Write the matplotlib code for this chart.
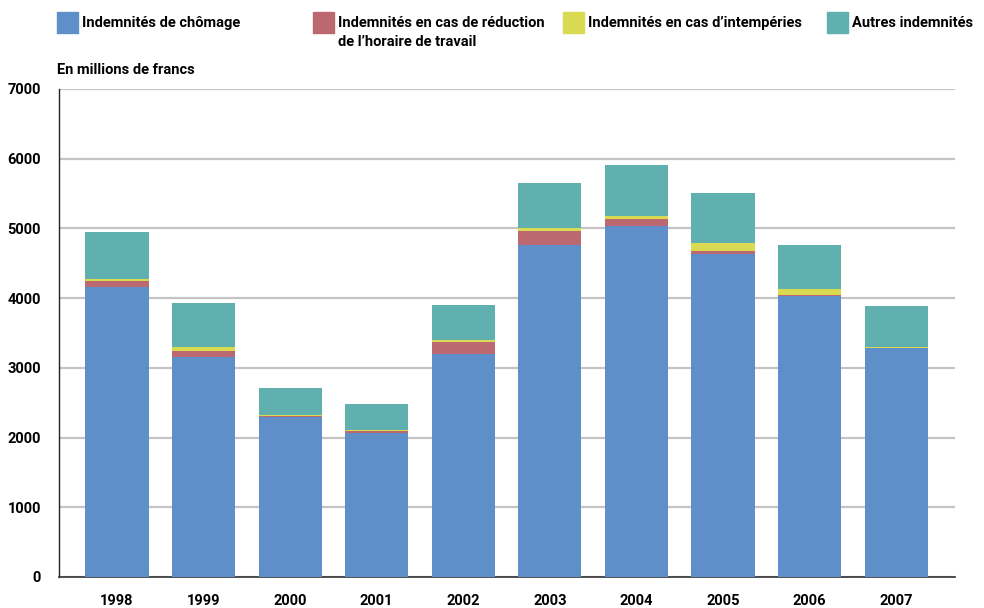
import matplotlib
matplotlib.use('Agg')
import matplotlib.pyplot as plt
from matplotlib.patches import Rectangle

# Données (en millions de francs)
annees = ['1998', '1999', '2000', '2001', '2002', '2003', '2004', '2005', '2006', '2007']
chomage = [4160, 3156, 2290, 2066, 3204, 4763, 5040, 4639, 4036, 3285]
reduction = [90, 86, 15, 29, 168, 201, 96, 38, 14, 0]
intemperies = [25, 58, 20, 14, 28, 43, 43, 115, 82, 15]
autres = [675, 631, 388, 373, 502, 646, 732, 717, 631, 588]

series = [
    ('Indemnités de chômage', chomage, '#5e8fc9'),
    ('Indemnités en cas de réduction\nde l\u2019horaire de travail', reduction, '#bc6870'),
    ('Indemnités en cas d\u2019intempéries', intemperies, '#d8db52'),
    ('Autres indemnités', autres, '#60b0b0'),
]

plt.rcParams['font.family'] = ['Roboto', 'DejaVu Sans']
police = dict(fontweight='bold', fontsize=10.5)

fig = plt.figure(figsize=(9.84, 6.08), dpi=100)
ax = fig.add_axes([59 / 984, 31 / 608, 896 / 984, 488 / 608])

x = list(range(len(annees)))
bas = [0] * len(annees)
for nom, valeurs, couleur in series:
    ax.bar(x, valeurs, bottom=bas, width=0.73, color=couleur, zorder=3)
    bas = [b + v for b, v in zip(bas, valeurs)]

ax.set_xlim(-0.67, 9.68)
ax.set_ylim(0, 7000)
ax.set_yticks(range(0, 7001, 1000))
ax.set_xticks(x)
ax.set_xticklabels(annees, **police)
ax.set_yticklabels([str(v) for v in range(0, 7001, 1000)], **police)
ax.tick_params(axis='both', length=0)
ax.tick_params(axis='y', pad=13)
ax.tick_params(axis='x', pad=12)
ax.grid(axis='y', color='#c4c4c4', linewidth=1.6, zorder=0)
for s in ['top', 'right']:
    ax.spines[s].set_visible(False)
ax.spines['left'].set_color('#222222')
ax.spines['left'].set_linewidth(1.0)
ax.spines['bottom'].set_color('#333333')
ax.spines['bottom'].set_linewidth(1.2)

# Légende en haut
positions = [57, 313, 563, 827]
for (nom, valeurs, couleur), px in zip(series, positions):
    fig.patches.append(Rectangle((px / 984, 1 - 33 / 608), 21 / 984, 21 / 608,
                                 transform=fig.transFigure, color=couleur))
    fig.text((px + 25) / 984, 1 - 16 / 608, nom, ha='left', va='top',
             linespacing=1.45, **police)

fig.text(57 / 984, 1 - 63 / 608, 'En millions de francs', ha='left', va='top', **police)

plt.savefig('out.png', dpi=100)
plt.close()
